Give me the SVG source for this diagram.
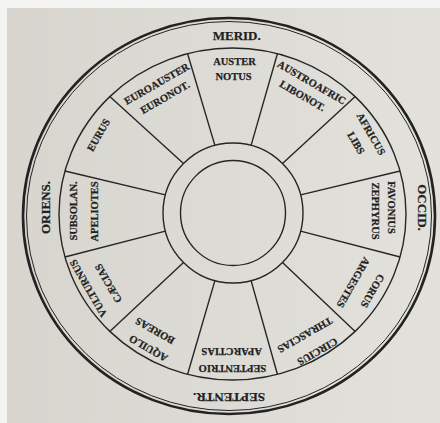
<svg xmlns="http://www.w3.org/2000/svg" width="440" height="423" viewBox="0 0 440 423">
<defs>
<linearGradient id="paper" x1="0" y1="0" x2="1" y2="0">
<stop offset="0" stop-color="#d7d5ce"/>
<stop offset="1" stop-color="#e2e1dc"/>
</linearGradient>
<style>
.ln{fill:none;stroke:#262626;stroke-width:1.4}
.w{font-family:"Liberation Serif",serif;font-weight:bold;font-size:10.5px;fill:#1f1f1f;stroke:#1f1f1f;stroke-width:0.25;text-anchor:middle}
.o{font-family:"Liberation Serif",serif;font-weight:bold;font-size:13px;fill:#1f1f1f;stroke:#1f1f1f;stroke-width:0.25;text-anchor:middle}
</style>
</defs>
<rect width="440" height="423" fill="#f4f4f2"/>
<rect x="7" y="8" width="433" height="415" fill="url(#paper)"/>
<g id="rings">
<ellipse cx="229" cy="216" rx="206" ry="198" fill="none" stroke="#222" stroke-width="2.6"/>
<ellipse cx="229" cy="216" rx="202.5" ry="194.5" fill="none" stroke="#222" stroke-width="1"/>
<ellipse class="ln" cx="232.5" cy="214" rx="173.5" ry="166" stroke-width="1.3"/>
<circle class="ln" cx="233" cy="213" r="70" stroke-width="1.6"/>
<circle class="ln" cx="233" cy="213" r="52.5" stroke-width="1.6"/>
</g>
<g id="connectors" class="ln">
<line x1="251.1" y1="145.4" x2="277.4" y2="53.7"/>
<line x1="282.5" y1="163.5" x2="355.2" y2="96.6"/>
<line x1="300.6" y1="194.9" x2="400.1" y2="171"/>
<line x1="300.6" y1="231.1" x2="400.1" y2="257"/>
<line x1="282.5" y1="262.5" x2="355.2" y2="331.4"/>
<line x1="251.1" y1="280.6" x2="277.4" y2="374.3"/>
<line x1="214.9" y1="280.6" x2="187.6" y2="374.3"/>
<line x1="183.5" y1="262.5" x2="109.8" y2="331.4"/>
<line x1="165.4" y1="231.1" x2="64.9" y2="257"/>
<line x1="165.4" y1="194.9" x2="64.9" y2="171"/>
<line x1="183.5" y1="163.5" x2="109.8" y2="96.6"/>
<line x1="214.9" y1="145.4" x2="187.6" y2="53.7"/>
</g>
<g id="auster">
<text class="w" transform="translate(234.5 61)" y="3.5">AUSTER</text>
<text class="w" transform="translate(233.5 76)" y="3.5">NOTUS</text>
</g>
<g id="euroauster">
<text class="w" transform="translate(156.7 83.8) rotate(-30)" y="3.5">EUROAUSTER</text>
<text class="w" transform="translate(165 97.5) rotate(-30)" y="3.5">EURONOT.</text>
</g>
<g id="austroafric">
<text class="w" transform="translate(311.7 82.5) rotate(30)" y="3.5">AUSTROAFRIC</text>
<text class="w" transform="translate(302.5 95.8) rotate(30)" y="3.5">LIBONOT.</text>
</g>
<g id="africus">
<text class="w" transform="translate(371 134) rotate(60)" y="3.5">AFRICUS</text>
<text class="w" transform="translate(356 143) rotate(60)" y="3.5">LIBS</text>
</g>
<g id="favonius">
<text class="w" transform="translate(391.5 207.5) rotate(90)" y="3.5">FAVONIUS</text>
<text class="w" transform="translate(375 211) rotate(90)" y="3.5">ZEPHYRUS</text>
</g>
<g id="corus">
<text class="w" transform="translate(372.5 290.8) rotate(120)" y="3.5">CORUS</text>
<text class="w" transform="translate(353.3 282.5) rotate(120)" y="3.5">ARGESTES</text>
</g>
<g id="circius">
<text class="w" transform="translate(317.5 351.7) rotate(150)" y="3.5">CIRCIUS</text>
<text class="w" transform="translate(305 335) rotate(150)" y="3.5">THRASCIAS</text>
</g>
<g id="septentrio">
<text class="w" transform="translate(232.5 368) rotate(180)" y="3.5">SEPTENTRIO</text>
<text class="w" transform="translate(231.7 351) rotate(180)" y="3.5">APARCTIAS</text>
</g>
<g id="aquilo">
<text class="w" transform="translate(148.3 348.3) rotate(-150)" y="3.5">AQUILO</text>
<text class="w" transform="translate(155 330.8) rotate(-150)" y="3.5">BOREAS</text>
</g>
<g id="vulturnus">
<text class="w" transform="translate(88.3 288.3) rotate(-120)" y="3.5">VULTURNUS</text>
<text class="w" transform="translate(108.3 283.3) rotate(-120)" y="3.5">CÆCIAS</text>
</g>
<g id="subsolanus">
<text class="w" transform="translate(73 211) rotate(-90)" y="3.5">SUBSOLAN.</text>
<text class="w" transform="translate(94 211.5) rotate(-90)" y="3.5">APELIOTES</text>
</g>
<g id="eurus">
<text class="w" transform="translate(98.5 135) rotate(-60)" y="3.5">EURUS</text>
</g>
<g id="merid">
<text class="o" transform="translate(236.7 35.7)" y="4.3">MERID.</text>
</g>
<g id="occid">
<text class="o" transform="translate(422.5 207.5) rotate(90)" y="4.3">OCCID.</text>
</g>
<g id="septentr">
<text class="o" transform="translate(229 397) rotate(180)" y="4.3">SEPTENTR.</text>
</g>
<g id="oriens">
<text class="o" transform="translate(45.8 207.5) rotate(-90)" y="4.3">ORIENS.</text>
</g>
</svg>
